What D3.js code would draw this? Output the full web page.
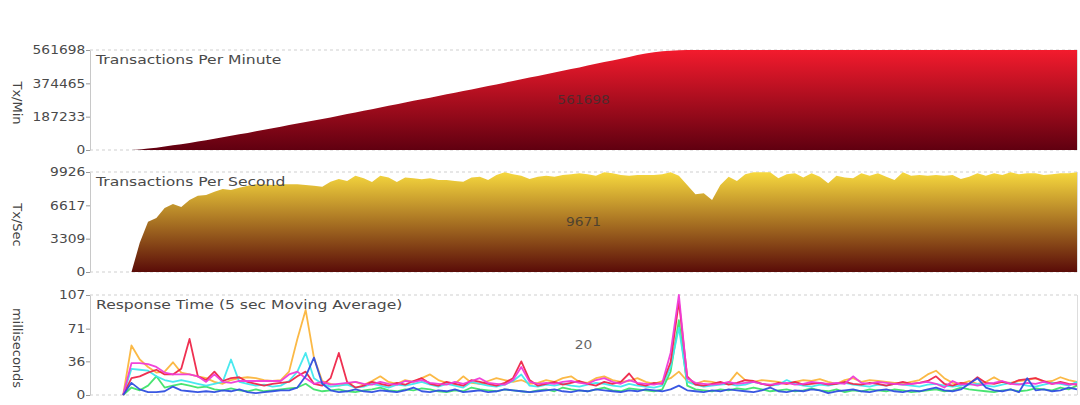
<!DOCTYPE html>
<html><head><meta charset="utf-8">
<script src="https://cdn.jsdelivr.net/npm/d3@7"></script>
<style>body{margin:0;background:#fff}svg{display:block}text{font-family:"DejaVu Sans",sans-serif}</style>
</head><body><svg id="c" width="1080" height="405"></svg>
<script>
// ---- data (one point per second) ----
const tpm = [0,0,0,0,0,0,3000,8000,13000,20000,26000,33000,40000,48000,55000,63000,71000,80000,88000,96000,
105000,114000,122000,131000,140000,149000,157000,166000,174000,183000,192000,202000,211000,221000,229000,239000,248000,257000,267000,276000,
285000,294000,304000,313000,322000,331000,340000,350000,359000,368000,378000,388000,398000,407000,416000,426000,435000,445000,455000,464000,
474000,484000,494000,503000,513000,523000,534000,542000,549000,554000,558000,560500,
561698,561698,561698,561698,561698,561698,561698,561698,561698,561698,561698,561698,561698,561698,561698,561698,
561698,561698,561698,561698,561698,561698,561698,561698,561698,561698,561698,561698,561698,561698,561698,561698,
561698,561698,561698,561698,561698,561698,561698,561698,561698,561698,561698,561698,561698,561698,561698,561698];
const tps = [0,0,0,0,0,0,2900,5000,5350,6350,6750,6450,7150,7570,7640,7970,8240,8140,8370,8570,8700,8700,8640,8700,8700,8700,8640,8570,8470,8970,9230,9040,9560,
9300,8930,9560,9370,8930,9370,9300,9200,9300,9140,9140,9040,8970,9370,9460,9140,9630,9890,9700,9560,9230,9460,9560,9460,9630,9700,9800,9700,9560,9890,9800,9630,9560,9630,9630,9630,9700,9890,9560,
8640,7710,7810,7150,8640,9460,9040,9700,9890,9890,9900,9300,9700,9800,9370,9800,9460,8800,9560,9370,9300,9800,9560,9800,9460,9140,9890,9560,9630,9560,9630,9560,9630,9230,9460,9800,9560,9800,9630,9890,9700,9800,9800,9630,9700,9800,9800,9890];
const rtOrange = [null,null,null,null,0,53,38,30,24,25,35,24,22,20,18,14,12,16,18,19,18,16,15,16,25,60,91,40,15,12,10,12,14,11,15,20,14,12,16,14,18,22,16,13,12,20,13,12,15,18,16,14,16,12,13,16,14,18,20,14,13,18,20,16,14,15,18,14,12,15,18,25,15,12,15,14,12,13,24,16,14,16,15,14,12,14,16,15,17,14,12,16,18,14,16,15,14,13,12,14,16,22,26,18,13,12,15,12,14,19,14,13,15,16,18,14,15,19,16,14];
const rtGreen = [null,null,null,null,0,8,5,10,20,8,10,12,10,8,9,6,5,7,5,4,6,4,5,6,7,8,12,6,4,5,6,4,3,5,6,8,5,4,6,5,7,6,4,3,5,4,8,6,5,4,6,5,4,3,5,6,4,8,6,5,4,6,8,5,4,7,6,5,4,6,25,80,10,6,5,4,6,5,7,6,8,6,4,5,6,4,5,7,5,4,6,3,5,4,6,5,4,6,5,3,4,5,6,4,5,8,6,5,4,3,5,6,4,5,7,6,5,8,6,10];
const rtCyan = [null,null,null,null,0,28,27,26,20,16,14,16,14,12,10,12,14,38,14,12,10,11,9,10,15,25,45,18,12,9,10,11,8,9,12,10,8,11,10,12,14,11,9,12,10,8,14,12,10,9,11,15,22,10,9,11,10,12,10,9,11,13,12,10,9,12,10,9,8,10,30,72,14,11,9,10,11,12,10,11,14,12,10,11,16,12,10,9,11,10,12,13,11,10,9,11,10,12,11,10,9,11,12,10,9,10,11,12,10,9,11,13,12,10,9,11,13,12,10,14];
const rtRed = [null,null,null,null,0,18,20,24,27,22,22,28,60,20,16,25,15,18,19,14,12,10,12,13,14,20,25,12,10,18,45,14,8,10,14,12,10,13,11,15,18,12,10,14,12,10,16,14,12,10,13,18,36,16,10,12,14,11,13,15,12,10,14,12,14,23,12,10,13,12,35,100,20,11,10,12,14,11,13,16,15,12,10,13,12,14,11,12,13,11,12,14,12,11,13,12,10,12,14,12,13,15,20,12,10,13,12,19,13,12,14,12,16,17,18,15,12,14,12,11];
const rtMagenta = [null,null,null,null,0,34,34,33,30,24,22,22,22,20,14,22,14,13,15,15,15,15,15,15,22,25,18,12,14,11,12,13,14,12,11,14,12,11,15,14,16,13,12,11,14,12,15,18,13,12,11,16,30,14,12,13,12,14,15,13,12,16,18,14,12,16,13,12,11,13,45,107,18,13,12,11,12,14,12,13,14,12,11,12,13,11,12,14,13,12,13,12,20,13,12,14,13,12,11,12,13,14,12,8,15,11,12,10,12,13,15,12,11,13,12,14,12,13,11,12];
const rtBlue = [null,null,null,null,0,13,6,3,3,4,9,5,4,3,4,3,5,4,6,3,2,3,4,5,5,8,20,40,12,5,3,4,6,4,3,5,4,3,5,8,4,3,5,4,6,3,4,5,3,4,6,5,4,3,4,5,6,4,3,5,4,6,5,4,3,5,4,6,5,4,6,10,5,4,3,5,4,6,5,4,3,5,8,4,3,5,4,6,5,2,4,5,6,4,3,5,6,4,3,5,4,6,8,5,4,6,12,18,8,5,4,6,3,18,5,6,4,5,8,6];

const tpmTicks = [0,187233,374465,561698];
const tpsTicks = [0,3309,6617,9926];
const rtTicks = [0,36,71,107];
const panelTitles = ["Transactions Per Minute","Transactions Per Second","Response Time (5 sec Moving Average)"];
const centerLabels = ["561698","9671","20"];
const yTitles = ["Tx/Min","Tx/Sec","milliseconds"];
const rtSeries = [rtOrange, rtGreen, rtCyan, rtRed, rtMagenta, rtBlue];
const rtColors = ["#fbb53c","#3fe36a","#3fe8ee","#ee2548","#f03ad8","#2f4fe0"];

// ---- layout ----
const svg = d3.select("#c");
const left = 90, right = 1077;
const tops = [50,172,295], H = 100;
const x = d3.scaleLinear().domain([0, tps.length - 1]).range([left, right]);
const defs = svg.append("defs");
function grad(id, c1, c2, top){
  const g = defs.append("linearGradient").attr("id", id).attr("gradientUnits","userSpaceOnUse")
    .attr("x1",0).attr("x2",0).attr("y1",top).attr("y2",top+H);
  g.append("stop").attr("offset","0%").attr("stop-color",c1);
  g.append("stop").attr("offset","100%").attr("stop-color",c2);
}
grad("gTpm","#f31b2d","#600010",tops[0]);
grad("gTps","#f7d93e","#5a0c08",tops[1]);

const panels = [
  {data:tpm, ticks:tpmTicks, fill:"url(#gTpm)"},
  {data:tps, ticks:tpsTicks, fill:"url(#gTps)"},
  {data:null, ticks:rtTicks}
];

panels.forEach((p,k)=>{
  const top = tops[k], bot = top + H;
  const y = d3.scaleLinear().domain([0, d3.max(p.ticks)]).range([bot, top]);
  const g = svg.append("g");
  // dashed guides
  [top, bot].forEach(yy=>{
    g.append("line").attr("x1",left).attr("x2",right).attr("y1",yy).attr("y2",yy)
      .attr("stroke","#cfcfcf").attr("stroke-dasharray","3,3");
  });
  g.append("line").attr("x1",right+0.5).attr("x2",right+0.5).attr("y1",top).attr("y2",bot).attr("stroke","#dddddd");
  if (p.data){
    const area = d3.area().x((d,i)=>x(i)).y0(bot).y1(d=>y(d));
    g.append("path").datum(p.data).attr("d",area).attr("fill",p.fill);
  } else {
    rtSeries.forEach((s,j)=>{
      const line = d3.line().defined(d=>d!==null).x((d,i)=>x(i)).y(d=>y(d));
      g.append("path").datum(s).attr("d",line).attr("fill","none")
        .attr("stroke",rtColors[j]).attr("stroke-width",1.8).attr("stroke-linejoin","round").attr("opacity",0.95);
    });
  }
  // axis
  const ax = g.append("g").attr("transform",`translate(${left},0)`)
    .call(d3.axisLeft(y).tickValues(p.ticks).tickFormat(d=>String(d)).tickSize(4).tickSizeOuter(0).tickPadding(0));
  ax.select(".domain").attr("stroke","#c8c8c8");
  ax.selectAll(".tick line").attr("stroke","#999");
  ax.selectAll(".tick text").attr("fill","#4a4a4a").attr("font-size",11.5)
    .attr("font-family","DejaVu Sans").attr("transform","scale(1.2,1)");
  // panel title
  g.append("text").attr("transform",`translate(${left+6},${top+14}) scale(1.2,1)`)
    .attr("font-size",13).attr("fill","#4a4a4a").text(panelTitles[k]);
  // center value
  g.append("text").attr("transform",`translate(${(left+right)/2},${top+H/2}) scale(1.2,1)`)
    .attr("text-anchor","middle").attr("dy","0.35em").attr("font-size",11.5)
    .attr("fill","#333").attr("opacity",0.75).text(centerLabels[k]);
  // y title
  g.append("text").attr("transform",`translate(13,${top+H/2+3}) rotate(90)`)
    .attr("text-anchor","middle").attr("font-size",13).attr("fill","#444").text(yTitles[k]);
});
</script></body></html>
